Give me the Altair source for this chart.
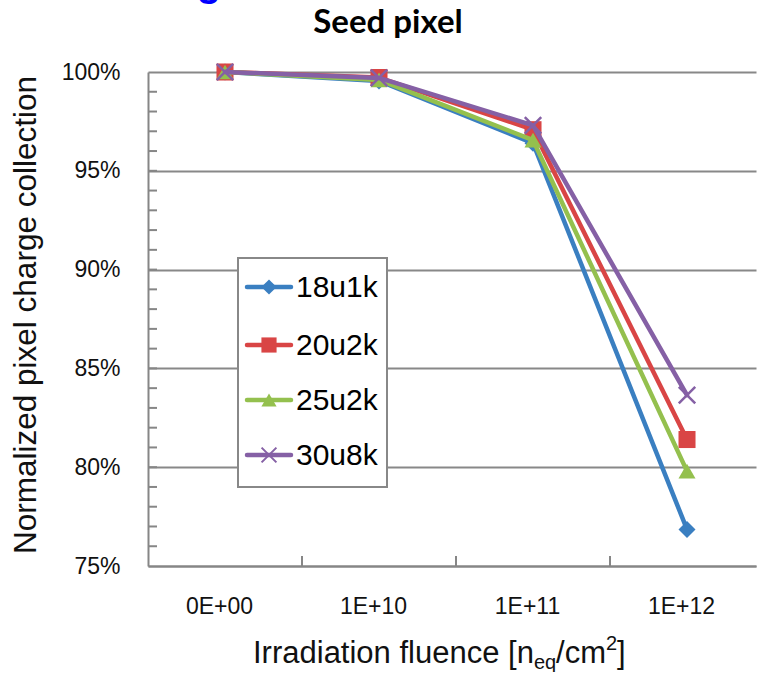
import altair as alt
import pandas as pd

fluence_labels = ["0E+00", "1E+10", "1E+11", "1E+12"]
series_names = ["18u1k", "20u2k", "25u2k", "30u8k"]
values_18u1k = [100.0, 99.55, 96.4, 76.85]
values_20u2k = [100.0, 99.72, 97.08, 81.4]
values_25u2k = [100.0, 99.6, 96.55, 79.8]
values_30u8k = [100.0, 99.7, 97.3, 83.65]
y_ticks = [75, 80, 85, 90, 95, 100]
y_minor = list(range(76, 100))
x_boundaries = [0.5, 1.5, 2.5]

series_values = [values_18u1k, values_20u2k, values_25u2k, values_30u8k]
colors = ["#3A7FC1", "#D94545", "#94C04E", "#8560A5"]
X_SHAPE = "M-1,-1L1,1M-1,1L1,-1"
shapes = ["diamond", "square", "triangle-up", X_SHAPE]
filled = [True, True, True, False]

rows = []
for name, vals in zip(series_names, series_values):
    for i, v in enumerate(vals):
        rows.append({"series": name, "idx": i, "value": v})
df = pd.DataFrame(rows)

W, H = 608, 494
FONT = "Liberation Sans"
one = pd.DataFrame({"k": [0]})

label_expr = "[" + ",".join(f"'{l}'" for l in fluence_labels) + "][datum.value]"

x_enc = alt.X("idx:Q", scale=alt.Scale(domain=[-0.5, 3.448], nice=False, zero=False),
              axis=alt.Axis(values=[0, 1, 2, 3], labelExpr=label_expr, ticks=False, tickSize=0,
                            grid=False, title=None, labelPadding=29, labelFontSize=23,
                            labelOffset=-6,
                            labelFont=FONT, labelColor="#111111",
                            domainColor="#868686", domainWidth=2))
y_enc = alt.Y("value:Q", scale=alt.Scale(domain=[75, 100], nice=False, zero=False),
              axis=alt.Axis(values=y_ticks, labelExpr="datum.value + '%'", ticks=False, tickSize=0,
                            grid=True, gridColor="#888888", gridWidth=2, title=None,
                            labelPadding=28, labelFontSize=23, labelFont=FONT,
                            labelColor="#111111", domainColor="#868686", domainWidth=2))

base = alt.Chart(df).mark_line(opacity=0).encode(x=x_enc, y=y_enc)

layers = [base]

# minor y ticks (inside)
minor_df = pd.DataFrame({"v": y_minor})
layers.append(alt.Chart(minor_df).mark_rule(color="#868686", strokeWidth=2).encode(
    y=alt.Y("v:Q"), x=alt.value(0), x2=alt.value(9)))
# x boundary ticks (inside)
xb_df = pd.DataFrame({"b": x_boundaries})
layers.append(alt.Chart(xb_df).mark_rule(color="#868686", strokeWidth=2).encode(
    x=alt.X("b:Q"), y=alt.value(H - 10), y2=alt.value(H)))

# series
for name, col, shp, fl in zip(series_names, colors, shapes, filled):
    sub = df[df["series"] == name]
    layers.append(alt.Chart(sub).mark_line(color=col, strokeWidth=4.5, strokeJoin="round",
                                           strokeCap="round").encode(x="idx:Q", y="value:Q"))
    if fl:
        pt = alt.Chart(sub).mark_point(shape=shp, filled=True, fill=col, color=col, size=290, opacity=1)
    else:
        pt = alt.Chart(sub).mark_point(shape=shp, filled=False, stroke=col, color=col, size=270,
                                       strokeWidth=2.5, opacity=1)
    layers.append(pt.encode(x="idx:Q", y="value:Q"))

# legend box
LX0, LX1, LY0, LY1 = 90, 239, 186, 415
layers.append(alt.Chart(one).mark_rect(fill="white", stroke="#888888", strokeWidth=2).encode(
    x=alt.value(LX0), x2=alt.value(LX1), y=alt.value(LY0), y2=alt.value(LY1)))
row_y = [215, 273, 328, 383]
for name, col, shp, fl, ry in zip(series_names, colors, shapes, filled, row_y):
    layers.append(alt.Chart(one).mark_rule(color=col, strokeWidth=4.5, strokeCap="round").encode(
        x=alt.value(99), x2=alt.value(143), y=alt.value(ry)))
    if fl:
        pt = alt.Chart(one).mark_point(shape=shp, filled=True, fill=col, color=col, size=230, opacity=1)
    else:
        pt = alt.Chart(one).mark_point(shape=shp, filled=False, stroke=col, color=col, size=220,
                                       strokeWidth=2, opacity=1)
    layers.append(pt.encode(x=alt.value(121), y=alt.value(ry)))
    layers.append(alt.Chart(one).mark_text(text=name, font=FONT, fontSize=30, align="left",
                                           baseline="middle", color="#000000").encode(
        x=alt.value(148), y=alt.value(ry + 1)))

# chart title
layers.append(alt.Chart(one).mark_text(text="Seed pixel", font="Lato", fontWeight="bold", fontSize=33,
                                       align="center", baseline="middle", color="#000000").encode(
    x=alt.value(388 - 148), y=alt.value(23 - 72)))
# clipped blue slide-title fragment
layers.append(alt.Chart(one).mark_text(text="g", font=FONT, fontWeight="bold", fontSize=40,
                                       align="center", baseline="alphabetic", color="#0000FF").encode(
    x=alt.value(209 - 148), y=alt.value(-4 - 72)))

# y title
layers.append(alt.Chart(one).mark_text(text="Normalized pixel charge collection", font=FONT, fontSize=31.5,
                                       angle=270, align="center", baseline="middle", color="#111111").encode(
    x=alt.value(27 - 148), y=alt.value(315 - 72)))

# x title with sub/superscript
XT_BASE = 663 - 72
x0 = 253 - 148
parts = [("Irradiation fluence [n", 31, 0, 280.9), ("eq", 20, 6, 22.2), ("/cm", 31, 0, 49.9),
         ("2", 20, -13, 11.1), ("]", 31, 0, 8.6)]
cx = x0
for txt, fs, dy, w in parts:
    layers.append(alt.Chart(one).mark_text(text=txt, font=FONT, fontSize=fs, align="left",
                                           baseline="alphabetic", color="#111111").encode(
        x=alt.value(cx), y=alt.value(XT_BASE + dy)))
    cx += w

chart = alt.layer(*layers).properties(
    width=W, height=H,
    autosize=alt.AutoSizeParams(type="none"),
    padding={"left": 148, "top": 72, "right": 5, "bottom": 106},
    background="white",
).configure_view(stroke=None)

chart.save("out.html", embed_options={"renderer": "svg", "actions": False})
